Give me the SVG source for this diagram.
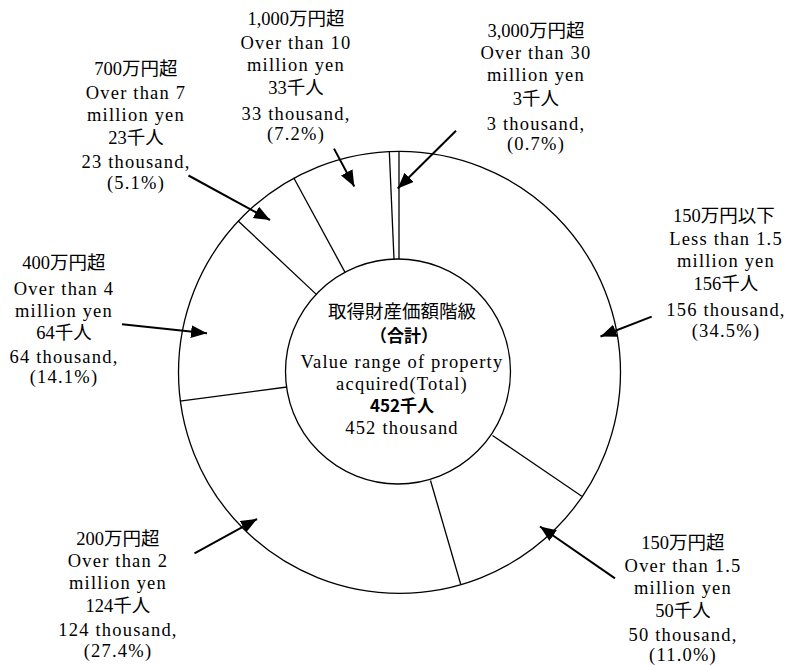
<svg xmlns="http://www.w3.org/2000/svg" width="785" height="666" viewBox="0 0 785 666">
<style>
.t{font-family:"Liberation Serif","Noto Sans CJK JP",serif;font-size:18.5px;letter-spacing:1.2px;fill:#000;text-anchor:middle}
.j{font-size:18.5px;letter-spacing:0}
.g{font-family:"Noto Sans CJK JP",sans-serif;font-size:17px;font-weight:bold;fill:#000;text-anchor:middle}
.ring{fill:#fff;stroke:#000;stroke-width:1.3}
.sep{stroke:#000;stroke-width:1.3;fill:none}
.arr{stroke:#000;stroke-width:2;fill:none;marker-end:url(#ah)}
</style>
<defs>
<marker id="ah" markerUnits="userSpaceOnUse" markerWidth="17" markerHeight="14" refX="16" refY="6.5" orient="auto" viewBox="0 0 17 14">
<path d="M0,0 L16,6.5 L0,13 Z" fill="#000"/>
</marker>
</defs>
<rect width="785" height="666" fill="#fff"/>
<g id="donut">
<circle class="ring" cx="399.5" cy="372.3" r="221"/>
<circle class="ring" cx="398" cy="371.5" r="112.5"/>
<line class="sep" x1="399" y1="259" x2="399" y2="151.3"/>
<line class="sep" x1="492.5" y1="435.5" x2="581.8" y2="496.2"/>
<line class="sep" x1="430.5" y1="480.5" x2="460.7" y2="584.2"/>
<line class="sep" x1="287" y1="387" x2="179.9" y2="401.2"/>
<line class="sep" x1="316.6" y1="294.6" x2="237.9" y2="220.7"/>
<line class="sep" x1="345.2" y1="272.6" x2="293.7" y2="177.7"/>
<line class="sep" x1="394" y1="259.1" x2="389.3" y2="151.2"/>
</g>
<g id="center">
<text class="t j" x="402" y="318">取得財産価額階級</text>
<text class="g" x="404" y="342">（合計）</text>
<text class="t" x="402" y="368">Value range of property</text>
<text class="t" x="402" y="390">acquired(Total)</text>
<text class="g" x="402" y="412">452千人</text>
<text class="t" x="402" y="434">452 thousand</text>
</g>
<g id="label-1000">
<text class="t j" x="296" y="25">1,000万円超</text>
<text class="t" x="296" y="49">Over than 10</text>
<text class="t" x="296" y="71">million yen</text>
<text class="t j" x="296" y="94">33千人</text>
<text class="t" x="296" y="119.5">33 thousand,</text>
<text class="t" x="296" y="140">(7.2%)</text>
</g>
<g id="label-3000">
<text class="t j" x="536" y="36.5">3,000万円超</text>
<text class="t" x="536" y="59">Over than 30</text>
<text class="t" x="536" y="81">million yen</text>
<text class="t j" x="536" y="104.5">3千人</text>
<text class="t" x="536" y="129.5">3 thousand,</text>
<text class="t" x="536" y="150">(0.7%)</text>
</g>
<g id="label-700">
<text class="t j" x="136" y="75">700万円超</text>
<text class="t" x="136" y="98.5">Over than 7</text>
<text class="t" x="136" y="120.5">million yen</text>
<text class="t j" x="136" y="143.5">23千人</text>
<text class="t" x="136" y="168">23 thousand,</text>
<text class="t" x="136" y="188.5">(5.1%)</text>
</g>
<g id="label-150below">
<text class="t j" x="724" y="221.5">150万円以下</text>
<text class="t" x="726" y="245">Less than 1.5</text>
<text class="t" x="726" y="267">million yen</text>
<text class="t j" x="726" y="290">156千人</text>
<text class="t" x="726" y="316">156 thousand,</text>
<text class="t" x="726" y="336.5">(34.5%)</text>
</g>
<g id="label-400">
<text class="t j" x="64" y="269">400万円超</text>
<text class="t" x="64" y="294.5">Over than 4</text>
<text class="t" x="64" y="316.5">million yen</text>
<text class="t j" x="64" y="338.5">64千人</text>
<text class="t" x="64" y="362.5">64 thousand,</text>
<text class="t" x="64" y="383">(14.1%)</text>
</g>
<g id="label-200">
<text class="t j" x="118" y="545">200万円超</text>
<text class="t" x="118" y="566.5">Over than 2</text>
<text class="t" x="118" y="589">million yen</text>
<text class="t j" x="118" y="611.5">124千人</text>
<text class="t" x="118" y="636">124 thousand,</text>
<text class="t" x="118" y="656.5">(27.4%)</text>
</g>
<g id="label-150over">
<text class="t j" x="683" y="549">150万円超</text>
<text class="t" x="683" y="572">Over than 1.5</text>
<text class="t" x="683" y="594">million yen</text>
<text class="t j" x="683" y="616.5">50千人</text>
<text class="t" x="683" y="640.5">50 thousand,</text>
<text class="t" x="683" y="661">(11.0%)</text>
</g>
<g id="connectors">
<line class="arr" x1="456" y1="130.8" x2="397.7" y2="188.5"/>
<line class="arr" x1="334" y1="148.6" x2="354.3" y2="186.5"/>
<line class="arr" x1="188.5" y1="175.5" x2="270" y2="220"/>
<line class="arr" x1="122" y1="324.3" x2="207" y2="333.3"/>
<line class="arr" x1="194.5" y1="553.3" x2="257" y2="519"/>
<line class="arr" x1="615" y1="578.4" x2="540" y2="526.5"/>
<line class="arr" x1="651.7" y1="316.6" x2="600.5" y2="336.5"/>
</g>
</svg>
